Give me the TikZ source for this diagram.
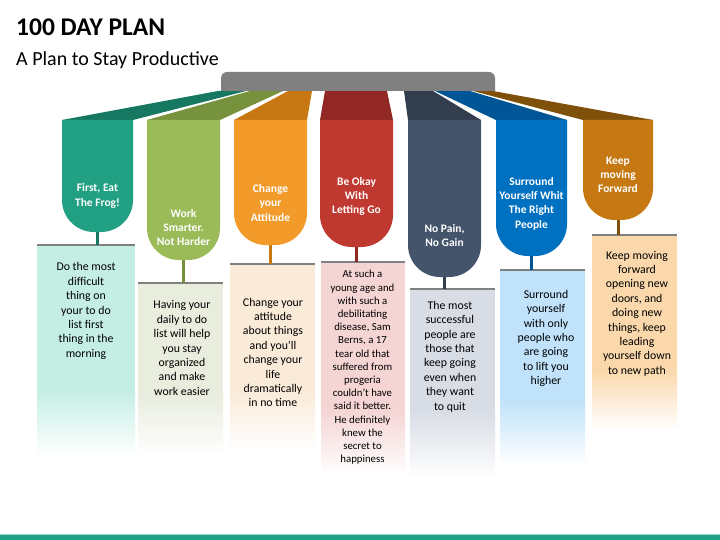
\documentclass[tikz,border=0pt]{standalone}
\usepackage{fontspec}
\setmainfont{Carlito}

% bulb, ribbon and note colours, one set per column
\definecolor{barGray}{RGB}{128,128,128}
\definecolor{hue1}{RGB}{33,160,131}   \definecolor{deep1}{RGB}{22,120,96}   \definecolor{pale1}{RGB}{196,238,228}
\definecolor{hue2}{RGB}{155,187,89}   \definecolor{deep2}{RGB}{118,146,60}  \definecolor{pale2}{RGB}{232,237,222}
\definecolor{hue3}{RGB}{242,154,42}   \definecolor{deep3}{RGB}{200,120,18}  \definecolor{pale3}{RGB}{250,234,216}
\definecolor{hue4}{RGB}{192,57,49}    \definecolor{deep4}{RGB}{145,40,35}   \definecolor{pale4}{RGB}{245,212,212}
\definecolor{hue5}{RGB}{68,84,106}    \definecolor{deep5}{RGB}{50,62,78}    \definecolor{pale5}{RGB}{216,220,229}
\definecolor{hue6}{RGB}{0,112,192}    \definecolor{deep6}{RGB}{0,85,150}    \definecolor{pale6}{RGB}{192,226,250}
\definecolor{hue7}{RGB}{198,120,18}   \definecolor{deep7}{RGB}{127,80,10}   \definecolor{pale7}{RGB}{250,216,172}

\tikzset{
  head/.style={text=white, font=\bfseries\fontsize{11.5}{14.3}\selectfont, align=center, inner sep=0pt},
  note/.style={font=\fontsize{11.8}{14.4}\selectfont, align=center, inner sep=0pt},
  stem/.style={line width=3pt}
}

\begin{document}
\begin{tikzpicture}[x=1pt,y=-1pt]
  \fill [white] (0,0) rectangle (720,540);
  \node [anchor=base west, inner sep=0pt, font=\bfseries\fontsize{25.5}{30}\selectfont] (title) at (16,36) {100 DAY PLAN};
  \node [anchor=base west, inner sep=0pt, font=\fontsize{20}{24}\selectfont] (subtitle) at (16,65.7) {A Plan to Stay Productive};
  % ribbons up to the bar
  \foreach \tl/\tr/\bl/\br/\i in {218/246/62/133/1,250/283/147/220/2,288/312/234/307/3,325/387/320/393/4,404/433/408/481/5,435/470/496/567/6,473/493/583/653/7}
    \fill [deep\i] (\tl,91) -- (\tr,91) -- (\br,120) -- (\bl,120) -- cycle;
  \fill [barGray, rounded corners=6] (221,91) -- (221,72) -- (495,72) -- (495,91);
  % bulbs
  \foreach \xl/\xr/\yb/\i in {62/133/232/1,147/220/260/2,234/307/245/3,320/393/247/4,408/481/277/5,496/567/256/6,583/653/220/7}
    \fill [hue\i, rounded corners=32] (\xl,120) -- (\xl,\yb) -- (\xr,\yb) -- (\xr,120);
  % note boxes and stems
  \foreach \xl/\xr/\yt/\yf/\ye/\yb/\xs/\i in {37/135/245/390/455/232/97.5/1,138/223/283/395/455/260/183.5/2,230/315/264/390/450/245/270.5/3,321/405/262/410/475/247/356.5/4,410/495/289/410/478/277/444.5/5,500/585/270/400/465/256/531.5/6,592/677/235/370/430/220/618/7}
  {
    \coordinate (bulb\i) at (\xs,\yb);
    \coordinate (box\i) at (\xs,\yt);
    \fill [pale\i] (\xl,\yt) rectangle (\xr,\yf);
    \shade [top color=pale\i, bottom color=white] (\xl,\yf) rectangle (\xr,\ye);
    \draw [gray, line width=2pt] (\xl,\yt) -- (\xr,\yt);
    \draw [stem, deep\i] (bulb\i) -- (box\i);
  }
  \node [head] (head1) at (97.5,196) {First, Eat\\The Frog!};
  \node [head] (head2) at (183.5,227.5) {Work\\Smarter.\\Not Harder};
  \node [head] (head3) at (270.5,203) {Change\\your\\Attitude};
  \node [head] (head4) at (356.5,196.5) {Be Okay\\With\\Letting Go};
  \node [head] (head5) at (444.5,235.5) {No Pain,\\No Gain};
  \node [head] (head6) at (531.5,203.5) {Surround\\Yourself Whit\\The Right\\People};
  \node [head] (head7) at (618,175) {Keep\\moving\\Forward};
  \node [note] (note1) at (86,311) {Do the most\\difficult\\thing on\\your to do\\list first\\thing in the\\morning};
  \node [note] (note2) at (182,348) {Having your\\daily to do\\list will help\\you stay\\organized\\and make\\work easier};
  \node [note] (note3) at (273,352.5) {Change your\\attitude\\about things\\and you’ll\\change your\\life\\dramatically\\in no time};
  \node [note, font=\fontsize{10.8}{13.2}\selectfont] (note4) at (362.5,367.5) {At such a\\young age and\\with such a\\debilitating\\disease, Sam\\Berns, a 17\\tear old that\\suffered from\\progeria\\couldn’t have\\said it better.\\He definitely\\knew the\\secret to\\happiness};
  \node [note] (note5) at (450,356.5) {The most\\successful\\people are\\those that\\keep going\\even when\\they want\\to quit};
  \node [note] (note6) at (546,338.5) {Surround\\yourself\\with only\\people who\\are going\\to lift you\\higher};
  \node [note] (note7) at (637,313.5) {Keep moving\\forward\\opening new\\doors, and\\doing new\\things,  keep\\leading\\yourself down\\to new path};
  % bottom strip
  \fill [hue1!45] (0,533.5) rectangle (720,534.6);
  \fill [hue1] (0,534.6) rectangle (720,540);
\end{tikzpicture}
\end{document}
